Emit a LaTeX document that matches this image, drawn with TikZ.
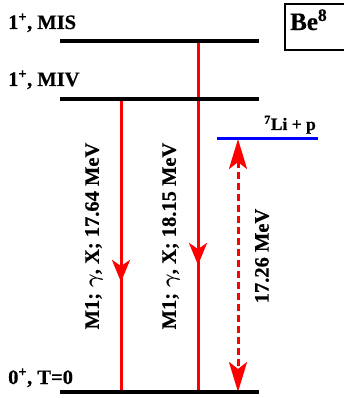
\documentclass[tikz,border=0pt]{standalone}
\usepackage{fontspec}
\setmainfont{Liberation Serif Bold}
\newfontfamily\lblfont{Liberation Serif Bold}[FakeBold=0.6]
\newcommand{\biglbl}{\lblfont\fontsize{20.5}{22}\selectfont}
\newcommand{\midlbl}{\lblfont\fontsize{17.5}{19}\selectfont}
\newcommand{\boxlbl}{\lblfont\fontsize{25}{27}\selectfont}
\usetikzlibrary{positioning,arrows.meta}
\tikzstyle{level} = [
line width=3.5pt,
draw=black
]
\tikzstyle{trans} = [
line width=3pt,
draw=red
]
\tikzstyle{thresh} = [
line width=3pt,
draw=blue
]
\tikzstyle{lbl} = [
inner sep=0pt,
anchor=base west
]
\tikzstyle{vlbl} = [
inner sep=0pt,
rotate=90
]

\begin{document}
\begin{tikzpicture}[
	x=1pt,
	y=-1pt,
	tip/.style={-{Stealth[length=22pt,width=18pt,inset=6pt]}},
	twotip/.style={{Stealth[length=30pt,width=18pt,inset=7pt]}-{Stealth[length=30pt,width=18pt,inset=7pt]}}
	]
	\useasboundingbox (0,0) rectangle (344,398);
	\clip (0,0) rectangle (344,398);
	
	% levels
	\coordinate (misA) at (60,41);
	\coordinate (misB) at (259,41);
	\coordinate (mivA) at (60,99);
	\coordinate (mivB) at (259,99);
	\coordinate (gndA) at (60,392);
	\coordinate (gndB) at (259,392);
	\coordinate (liA) at (217,139);
	\coordinate (liB) at (318,139);
	
	% transitions
	\coordinate (t1top) at (121,99);
	\coordinate (t1tip) at (121,282);
	\coordinate (t1bot) at (121,392);
	\coordinate (t2top) at (198,41);
	\coordinate (t2tip) at (198,265);
	\coordinate (t2bot) at (198,392);
	\coordinate (dtop) at (238,139);
	\coordinate (dbot) at (238,392);
	
	\draw[trans] (t1top) -- (t1bot);
	\draw[trans,tip] (t1top) -- (t1tip);
	\draw[trans] (t2top) -- (t2bot);
	\draw[trans,tip] (t2top) -- (t2tip);
	\draw[trans,twotip,dash pattern=on 7pt off 4pt] (dtop) -- (dbot);
	
	\draw[level] (misA) -- (misB);
	\draw[level] (mivA) -- (mivB);
	\draw[level] (gndA) -- (gndB);
	\draw[thresh] (liA) -- (liB);
	
	\node[lbl] (mis) at (8,29) {\biglbl 1\textsuperscript{+}, MIS};
	\node[lbl] (miv) at (8,86) {\biglbl 1\textsuperscript{+}, MIV};
	\node[lbl] (gnd) at (8,384) {\biglbl 0\textsuperscript{+}, T=0};
	\node[lbl] (lip) at (264,130) {\midlbl \textsuperscript{7}Li + p};
	
	\node[vlbl] (m1) at (94,236) {\biglbl M1; {\boldmath$\gamma$}, X; 17.64 MeV};
	\node[vlbl] (m2) at (171,236) {\biglbl M1; {\boldmath$\gamma$}, X; 18.15 MeV};
	\node[vlbl] (gap) at (262,256) {\biglbl 17.26 MeV};
	
	% nucleus box
	\node[lbl] (be) at (290,30) {\boxlbl Be\textsuperscript{8}};
	\coordinate (boxA) at (285,4);
	\coordinate (boxB) at (352,50);
	\draw[line width=2.5pt] (boxA) rectangle (boxB);
\end{tikzpicture}
\end{document}
